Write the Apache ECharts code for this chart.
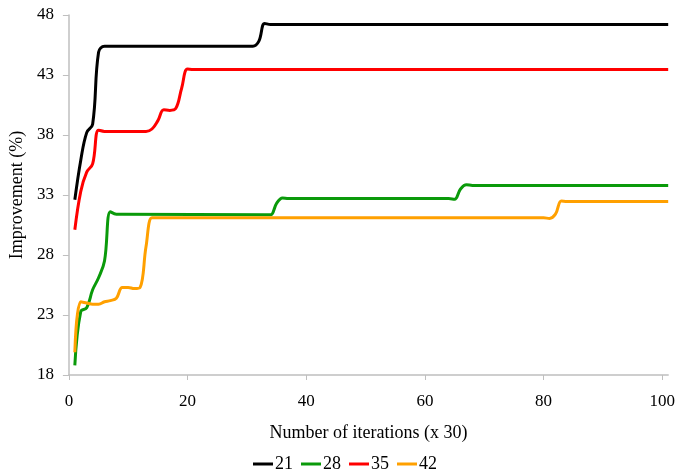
<!DOCTYPE html>
<html>
<head>
<meta charset="utf-8">
<script src="https://cdn.jsdelivr.net/npm/echarts@6/dist/echarts.min.js"></script>
<style>
	html, body { margin: 0; padding: 0; background: #fff; }
	#ec1 { width: 678px; height: 475px; }
</style>
</head>
<body>
<div id="ec1"></div>
<script>
// series names (legend)
var names = ['21', '28', '35', '42'];
var colors = ['#000000', '#0a9a0a', '#ff0000', '#ffa000'];

// [iteration, improvement %]
var line21 = [[1,32.6],[2,35.9],[3,38.2],[4,38.9],[5,44.9],[6,45.4],[7,45.4],[8,45.4],[30,45.4],[31,45.4],[32,45.8],[33,47.3],[34,47.2],[35,47.2],[101,47.2]];
var line28 = [[1,18.8],[2,23.3],[3,23.6],[4,25.1],[5,26.1],[6,27.5],[7,31.6],[8,31.4],[9,31.4],[33,31.35],[34,31.35],[35,32.3],[36,32.75],[37,32.7],[38,32.7],[64,32.7],[65,32.65],[66,33.5],[67,33.85],[68,33.8],[69,33.8],[101,33.8]];
var line35 = [[1,30.1],[2,33.3],[3,34.9],[4,35.6],[5,38.4],[6,38.3],[7,38.3],[13,38.3],[14,38.5],[15,39.2],[16,40.1],[17,40.05],[18,40.2],[19,41.9],[20,43.5],[21,43.45],[22,43.45],[101,43.45]];
var line42 = [[1,19.9],[2,24.1],[3,24.0],[4,23.9],[5,23.9],[6,24.1],[7,24.2],[8,24.4],[9,25.3],[10,25.3],[11,25.2],[12,25.3],[13,28.7],[14,31.1],[15,31.1],[16,31.1],[80,31.1],[81,31.05],[82,31.4],[83,32.5],[84,32.45],[85,32.45],[101,32.45]];

// axis ticks
var xTicks = [0, 20, 40, 60, 80, 100];
var yMin = 18, yMax = 48, yStep = 5;

var lines = [line21, line28, line35, line42];

function gaijin(){
	var myCharts = echarts.init(document.getElementById('ec1'));
	var font = 'Liberation Serif';
	var axisGray = '#bfbfbf';

	var series = [];
	for (var i = 0; i < lines.length; i++) {
		series.push({
			name: names[i],
			type: 'line',
			data: lines[i],
			smooth: 0.4,
			showSymbol: false,
			symbol: 'none',
			lineStyle: { color: colors[i], width: 3 },
			itemStyle: { color: colors[i] },
			animation: false
		});
	}

	var option = {
		backgroundColor: '#fff',
		grid: {
			left: 68,
			right: 8,
			top: 15,
			bottom: 100
		},
		legend: {
			top: 455,
			left: 253,
			padding: 0,
			icon: 'rect',
			itemWidth: 20,
			itemHeight: 3,
			itemGap: 8,
			textStyle: { fontFamily: font, fontSize: 18, color: '#000', padding: [0, 0, 0, -3] },
			data: names
		},
		xAxis: {
			type: 'value',
			min: 0,
			max: 101,
			name: 'Number of iterations (x 30)',
			nameLocation: 'middle',
			nameGap: 49,
			nameTextStyle: { fontFamily: font, fontSize: 18, color: '#000' },
			splitLine: { show: false },
			axisLine: { show: true, lineStyle: { color: axisGray, width: 1.5 } },
			axisTick: { show: true, length: 5, lineStyle: { color: axisGray }, customValues: xTicks },
			axisLabel: { fontFamily: font, fontSize: 17, color: '#000', margin: 18, customValues: xTicks }
		},
		yAxis: {
			type: 'value',
			min: yMin,
			max: yMax,
			interval: yStep,
			name: 'Improvement (%)',
			nameLocation: 'middle',
			nameRotate: 90,
			nameGap: 40,
			nameTextStyle: { fontFamily: font, fontSize: 18, color: '#000' },
			splitLine: { show: false },
			axisLine: { show: true, lineStyle: { color: axisGray, width: 1.5 } },
			axisTick: { show: true, length: 6, lineStyle: { color: axisGray } },
			axisLabel: { fontFamily: font, fontSize: 17, color: '#000', margin: 15 }
		},
		series: series
	};
	myCharts.setOption(option);
}

gaijin();
</script>
</body>
</html>
